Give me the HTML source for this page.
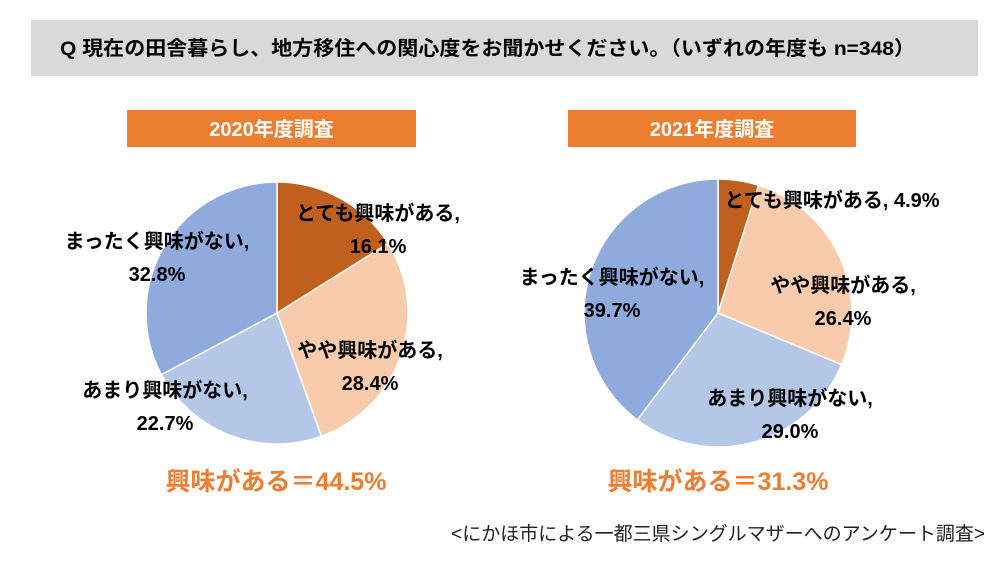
<!DOCTYPE html>
<html><head><meta charset="utf-8">
<style>
body{margin:0;width:1000px;height:563px;background:#fff;overflow:hidden;font-family:"Liberation Sans","Noto Sans CJK JP",sans-serif;}
svg text{font-family:"Liberation Sans","Noto Sans CJK JP",sans-serif;}
</style></head><body>
<svg width="1000" height="563">
<rect x="31" y="20" width="947" height="56" fill="#d9d9d9"/>
<text x="60" y="55" font-size="19.7" font-weight="bold" fill="#000" textLength="855" lengthAdjust="spacingAndGlyphs">Q  現在の田舎暮らし、地方移住への関心度をお聞かせください。（いずれの年度も n=348）</text>
<rect x="127" y="110" width="289" height="37" fill="#ed7d31"/>
<text x="271.5" y="136" font-size="20" font-weight="bold" fill="#fff" text-anchor="middle">2020年度調査</text>
<rect x="568" y="110" width="288" height="37" fill="#ed7d31"/>
<text x="712" y="136" font-size="20" font-weight="bold" fill="#fff" text-anchor="middle">2021年度調査</text>
<g id="pies"></g>
<text x="276" y="490" font-size="25" font-weight="bold" fill="#ed7d31" text-anchor="middle">興味がある＝44.5%</text>
<text x="718" y="490" font-size="25" font-weight="bold" fill="#ed7d31" text-anchor="middle">興味がある＝31.3%</text>
<text x="985" y="540" font-size="19" fill="#222" text-anchor="end">&lt;にかほ市による一都三県シングルマザーへのアンケート調査&gt;</text>
</svg>
<script>
const categories=["とても興味がある","やや興味がある","あまり興味がない","まったく興味がない"];
const values2020=[16.1,28.4,22.7,32.8];
const values2021=[4.9,26.4,29.0,39.7];
const colors=["#c0601f","#f8cbad","#b4c7e7","#8faadc"];
const labels2020=[[378,213,"とても興味がある,","16.1%"],[370,350,"やや興味がある,","28.4%"],[165,390,"あまり興味がない,","22.7%"],[157,241,"まったく興味がない,","32.8%"]];
const labels2021=[[832,200,"とても興味がある, 4.9%",null],[843,285,"やや興味がある,","26.4%"],[790,398,"あまり興味がない,","29.0%"],[612,277,"まったく興味がない,","39.7%"]];
const NS="http://www.w3.org/2000/svg";
const g=document.getElementById("pies");
function pie(vals,cx,cy,r,labs,yr){
  const tot=vals.reduce((a,b)=>a+b,0);let a0=-Math.PI/2;
  vals.forEach((v,i)=>{
    const a1=a0+v/tot*2*Math.PI;
    const x0=cx+r*Math.cos(a0),y0=cy+r*Math.sin(a0),x1=cx+r*Math.cos(a1),y1=cy+r*Math.sin(a1);
    const p=document.createElementNS(NS,"path");
    p.setAttribute("d",`M${cx},${cy}L${x0},${y0}A${r},${r} 0 ${a1-a0>Math.PI?1:0} 1 ${x1},${y1}Z`);
    p.setAttribute("fill",colors[i]);p.setAttribute("stroke","#fff");p.setAttribute("stroke-width","1.5");
    
    
    g.appendChild(p);a0=a1;
  });
  labs.forEach((l,i)=>{
    [l[2],l[3]].forEach((s,k)=>{ if(!s)return;
      const t=document.createElementNS(NS,"text");
      t.setAttribute("x",l[0]);t.setAttribute("y",l[1]+7+k*33);t.setAttribute("text-anchor","middle");
      t.setAttribute("font-size","20");t.setAttribute("font-weight","bold");t.textContent=s;
      
      
      g.appendChild(t);});
  });
}
pie(values2020,277,313,131,labels2020,"2020");
pie(values2021,718,313,134,labels2021,"2021");
</script>
</body></html>
